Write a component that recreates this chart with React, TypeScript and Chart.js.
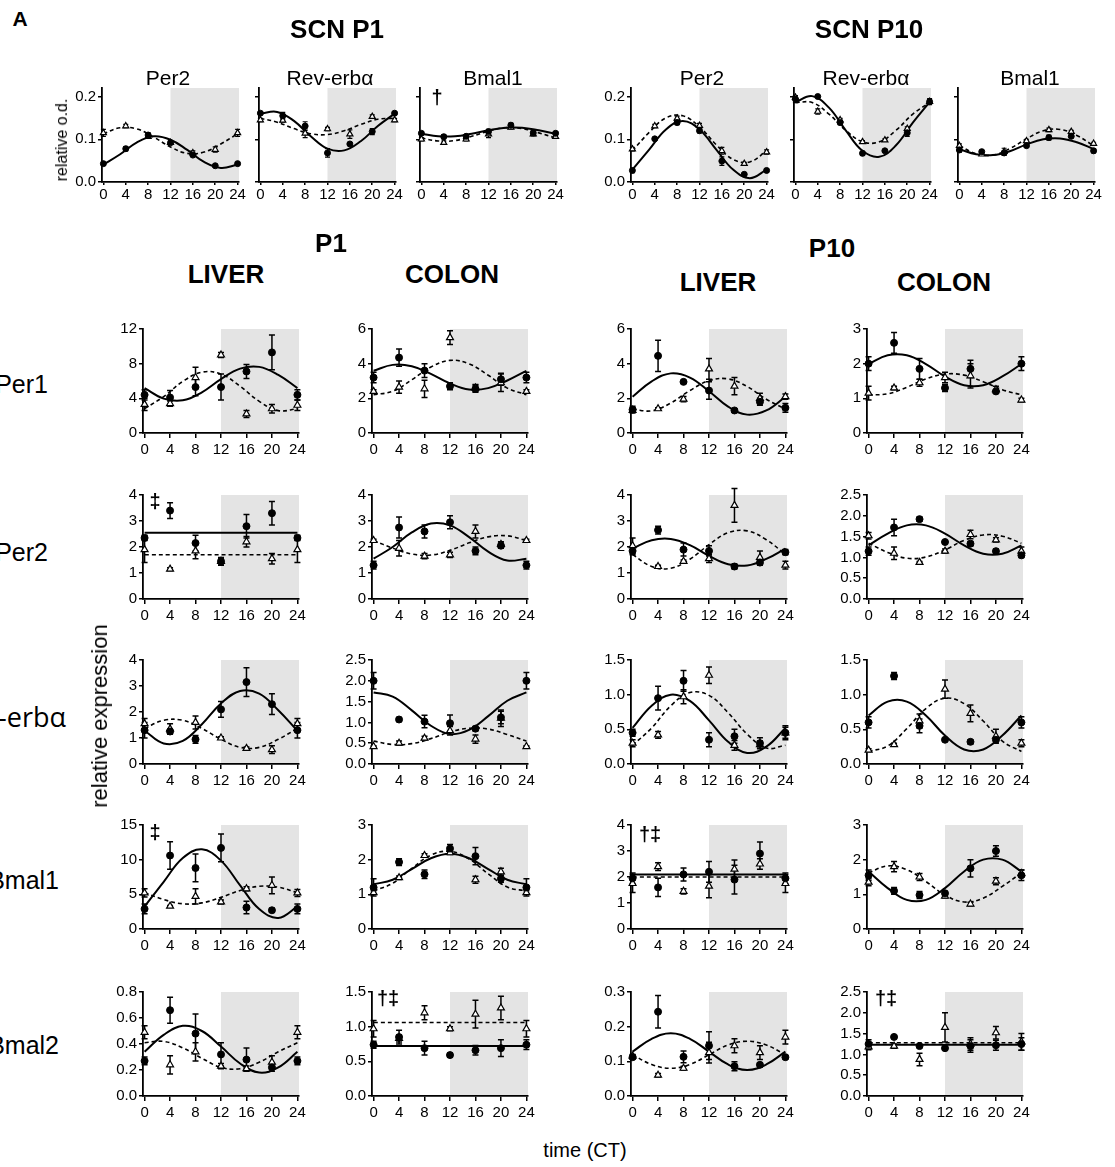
import React, { useEffect, useRef } from 'react';
import { Chart, registerables } from 'chart.js';
Chart.register(...registerables);

const FONT = '"Liberation Sans", Arial, sans-serif';
Chart.defaults.font.family = FONT;
Chart.defaults.color = '#000';

// ---------- shared axes ----------
const sampleTimes = [0, 4, 8, 12, 16, 20, 24];
const fitTimes = [0, 3, 6, 9, 12, 15, 18, 21, 24];
const flatTimes = [0, 24];
const timeTicks = [0, 4, 8, 12, 16, 20, 24];

const ticksSCN = [0, 0.1, 0.2];
const ticks0to12 = [0, 4, 8, 12];
const ticks0to6 = [0, 2, 4, 6];
const ticks0to3 = [0, 1, 2, 3];
const ticks0to4 = [0, 1, 2, 3, 4];
const ticks0to2p5 = [0, 0.5, 1, 1.5, 2, 2.5];
const ticks0to1p5 = [0, 0.5, 1, 1.5];
const ticks0to15 = [0, 5, 10, 15];
const ticks0to0p8 = [0, 0.2, 0.4, 0.6, 0.8];
const ticks0to0p3 = [0, 0.1, 0.2, 0.3];

// ---------- SCN P1 ----------
const scnP1Per2Dots = [0.043, 0.078, 0.110, 0.092, 0.063, 0.038, 0.043];
const scnP1Per2DotsErr = [0.003, 0.005, 0.005, 0.004, 0.003, 0.002, 0.003];
const scnP1Per2Tris = [0.115, 0.131, 0.106, 0.092, 0.068, 0.076, 0.115];
const scnP1Per2TrisErr = [0.008, 0.004, 0.004, 0.004, 0.005, 0.006, 0.008];
const scnP1Per2Solid = [0.041, 0.065, 0.093, 0.107, 0.099, 0.075, 0.047, 0.033, 0.041];
const scnP1Per2Dashed = [0.113, 0.127, 0.124, 0.105, 0.082, 0.067, 0.070, 0.089, 0.113];

const scnP1RevDots = [0.161, 0.155, 0.131, 0.068, 0.089, 0.118, 0.161];
const scnP1RevDotsErr = [0.003, 0.008, 0.010, 0.010, 0.003, 0.007, 0.003];
const scnP1RevTris = [0.145, 0.144, 0.114, 0.124, 0.112, 0.153, 0.145];
const scnP1RevTrisErr = [0.004, 0.004, 0.010, 0.004, 0.010, 0.004, 0.004];
const scnP1RevSolid = [0.160, 0.164, 0.143, 0.107, 0.078, 0.074, 0.096, 0.131, 0.160];
const scnP1RevDashed = [0.149, 0.140, 0.125, 0.113, 0.111, 0.120, 0.135, 0.147, 0.149];

const scnP1Bmal1Dots = [0.114, 0.106, 0.107, 0.118, 0.133, 0.115, 0.114];
const scnP1Bmal1DotsErr = [0.004, 0.005, 0.004, 0.005, 0.005, 0.006, 0.004];
const scnP1Bmal1Tris = [0.100, 0.092, 0.100, 0.112, 0.128, 0.112, 0.106];
const scnP1Bmal1TrisErr = [0.004, 0.004, 0.004, 0.008, 0.004, 0.004, 0.004];
const scnP1Bmal1Solid = [0.113, 0.107, 0.107, 0.113, 0.121, 0.127, 0.127, 0.121, 0.113];
const scnP1Bmal1Dashed = [0.103, 0.096, 0.097, 0.107, 0.119, 0.127, 0.125, 0.115, 0.103];

// ---------- SCN P10 ----------
const scnP10Per2Dots = [0.027, 0.101, 0.139, 0.120, 0.049, 0.018, 0.027];
const scnP10Per2DotsErr = [0.005, 0.003, 0.005, 0.005, 0.010, 0.002, 0.004];
const scnP10Per2Tris = [0.077, 0.131, 0.149, 0.132, 0.073, 0.043, 0.070];
const scnP10Per2TrisErr = [0.004, 0.004, 0.005, 0.005, 0.008, 0.003, 0.005];
const scnP10Per2Solid = [0.029, 0.076, 0.123, 0.143, 0.123, 0.076, 0.029, 0.009, 0.029];
const scnP10Per2Dashed = [0.073, 0.116, 0.150, 0.155, 0.129, 0.087, 0.053, 0.047, 0.073];

const scnP10RevDots = [0.194, 0.200, 0.139, 0.067, 0.073, 0.115, 0.188];
const scnP10RevDotsErr = [0.008, 0.002, 0.005, 0.005, 0.002, 0.008, 0.007];
const scnP10RevTris = [0.198, 0.165, 0.145, 0.094, 0.098, 0.125, 0.188];
const scnP10RevTrisErr = [0.004, 0.006, 0.004, 0.003, 0.003, 0.004, 0.005];
const scnP10RevSolid = [0.187, 0.201, 0.174, 0.121, 0.073, 0.059, 0.086, 0.139, 0.187];
const scnP10RevDashed = [0.186, 0.186, 0.159, 0.121, 0.094, 0.094, 0.121, 0.159, 0.186];

const scnP10Bmal1Dots = [0.075, 0.071, 0.068, 0.085, 0.104, 0.107, 0.073];
const scnP10Bmal1DotsErr = [0.005, 0.003, 0.005, 0.003, 0.006, 0.003, 0.005];
const scnP10Bmal1Tris = [0.085, 0.065, 0.071, 0.096, 0.122, 0.118, 0.090];
const scnP10Bmal1TrisErr = [0.004, 0.003, 0.008, 0.004, 0.004, 0.003, 0.003];
const scnP10Bmal1Solid = [0.077, 0.065, 0.063, 0.072, 0.088, 0.100, 0.102, 0.093, 0.077];
const scnP10Bmal1Dashed = [0.085, 0.066, 0.063, 0.078, 0.101, 0.120, 0.123, 0.109, 0.085];

// ---------- Per1 ----------
const per1LiverP1Dots = [4.4, 4.1, 5.3, 5.3, 7.1, 9.3, 4.4];
const per1LiverP1DotsErr = [0.6, 0.8, 1.0, 1.5, 0.8, 2.0, 0.6];
const per1LiverP1Tris = [3.3, 3.4, 6.4, 9.0, 2.2, 2.8, 3.2];
const per1LiverP1TrisErr = [0.7, 0.3, 1.2, 0.3, 0.4, 0.5, 0.6];
const per1LiverP1Solid = [5.18, 3.97, 3.77, 4.70, 6.22, 7.43, 7.63, 6.70, 5.18];
const per1LiverP1Dashed = [2.81, 4.20, 5.95, 7.02, 6.79, 5.40, 3.65, 2.58, 2.81];

const per1ColonP1Dots = [3.2, 4.35, 3.6, 2.7, 2.55, 3.1, 3.2];
const per1ColonP1DotsErr = [0.3, 0.5, 0.4, 0.2, 0.2, 0.35, 0.3];
const per1ColonP1Tris = [2.4, 2.65, 2.55, 5.5, 2.6, 2.9, 2.4];
const per1ColonP1TrisErr = [0.1, 0.35, 0.5, 0.4, 0.2, 0.5, 0.1];
const per1ColonP1Solid = [3.59, 3.93, 3.85, 3.41, 2.86, 2.51, 2.59, 3.03, 3.59];
const per1ColonP1Dashed = [2.21, 2.41, 3.07, 3.81, 4.19, 3.99, 3.33, 2.59, 2.21];

const per1LiverP10Dots = [1.35, 4.45, 2.95, 2.45, 1.3, 1.8, 1.45];
const per1LiverP10DotsErr = [0.2, 0.9, 0.05, 0.5, 0.1, 0.2, 0.25];
const per1LiverP10Tris = [1.3, 1.4, 1.95, 3.7, 2.7, 2.0, 2.1];
const per1LiverP10TrisErr = [0.1, 0.05, 0.15, 0.6, 0.5, 0.3, 0.15];
const per1LiverP10Solid = [2.09, 2.98, 3.44, 3.20, 2.41, 1.52, 1.06, 1.30, 2.09];
const per1LiverP10Dashed = [1.38, 1.28, 1.73, 2.45, 3.02, 3.12, 2.68, 1.95, 1.38];

const per1ColonP10Dots = [2.0, 2.6, 1.85, 1.3, 1.85, 1.2, 2.0];
const per1ColonP10DotsErr = [0.2, 0.3, 0.3, 0.1, 0.25, 0.05, 0.2];
const per1ColonP10Tris = [1.15, 1.3, 1.45, 1.6, 1.65, 1.25, 0.95];
const per1ColonP10TrisErr = [0.2, 0.05, 0.1, 0.15, 0.35, 0.1, 0.05];
const per1ColonP10Solid = [1.99, 2.24, 2.24, 1.99, 1.63, 1.38, 1.38, 1.63, 1.99];
const per1ColonP10Dashed = [1.10, 1.13, 1.32, 1.56, 1.70, 1.67, 1.48, 1.25, 1.10];

// ---------- Per2 ----------
const per2LiverP1Dots = [2.35, 3.4, 2.15, 1.45, 2.8, 3.3, 2.35];
const per2LiverP1DotsErr = [0.1, 0.3, 0.3, 0.15, 0.45, 0.45, 0.1];
const per2LiverP1Tris = [1.9, 1.15, 1.85, 1.45, 2.2, 1.55, 1.9];
const per2LiverP1TrisErr = [0.5, 0.05, 0.3, 0.1, 0.2, 0.2, 0.5];
const per2LiverP1Solid = [2.55, 2.55];
const per2LiverP1Dashed = [1.7, 1.7];

const per2ColonP1Dots = [1.3, 2.75, 2.6, 2.95, 1.85, 2.05, 1.3];
const per2ColonP1DotsErr = [0.15, 0.4, 0.25, 0.25, 0.15, 0.1, 0.15];
const per2ColonP1Tris = [2.25, 1.95, 1.65, 1.7, 2.6, 2.1, 2.25];
const per2ColonP1TrisErr = [0.05, 0.3, 0.1, 0.1, 0.25, 0.1, 0.05];
const per2ColonP1Solid = [1.55, 2.00, 2.56, 2.90, 2.83, 2.38, 1.82, 1.48, 1.55];
const per2ColonP1Dashed = [2.25, 1.96, 1.73, 1.69, 1.87, 2.16, 2.39, 2.43, 2.25];

const per2LiverP10Dots = [1.85, 2.65, 1.9, 1.85, 1.25, 1.4, 1.8];
const per2LiverP10DotsErr = [0.15, 0.15, 0.25, 0.2, 0.1, 0.1, 0.1];
const per2LiverP10Tris = [2.05, 1.25, 1.45, 1.55, 3.6, 1.6, 1.3];
const per2LiverP10TrisErr = [0.3, 0.05, 0.05, 0.15, 0.65, 0.25, 0.15];
const per2LiverP10Solid = [1.94, 2.26, 2.31, 2.07, 1.66, 1.34, 1.29, 1.54, 1.94];
const per2LiverP10Dashed = [1.71, 1.25, 1.18, 1.53, 2.09, 2.55, 2.62, 2.28, 1.71];

const per2ColonP10Dots = [1.15, 1.72, 1.92, 1.37, 1.33, 1.15, 1.05];
const per2ColonP10DotsErr = [0.1, 0.2, 0.05, 0.02, 0.05, 0.05, 0.05];
const per2ColonP10Tris = [1.52, 1.1, 0.88, 1.15, 1.55, 1.42, 1.15];
const per2ColonP10TrisErr = [0.08, 0.15, 0.02, 0.05, 0.1, 0.05, 0.1];
const per2ColonP10Solid = [1.29, 1.57, 1.77, 1.77, 1.57, 1.29, 1.09, 1.09, 1.29];
const per2ColonP10Dashed = [1.34, 1.12, 0.98, 1.01, 1.18, 1.41, 1.54, 1.51, 1.34];

// ---------- Rev-erbα ----------
const revLiverP1Dots = [1.3, 1.25, 0.95, 2.1, 3.15, 2.3, 1.3];
const revLiverP1DotsErr = [0.3, 0.1, 0.15, 0.3, 0.55, 0.4, 0.3];
const revLiverP1Tris = [1.55, 1.35, 1.6, 1.0, 0.6, 0.55, 1.55];
const revLiverP1TrisErr = [0.2, 0.2, 0.25, 0.05, 0.05, 0.15, 0.2];
const revLiverP1Solid = [1.28, 0.79, 0.89, 1.53, 2.33, 2.81, 2.71, 2.07, 1.28];
const revLiverP1Dashed = [1.37, 1.68, 1.68, 1.37, 0.95, 0.64, 0.64, 0.95, 1.37];

const revColonP1Dots = [2.0, 1.07, 1.02, 0.98, 0.85, 1.12, 2.0];
const revColonP1DotsErr = [0.2, 0.05, 0.15, 0.2, 0.05, 0.15, 0.2];
const revColonP1Tris = [0.42, 0.5, 0.62, 0.8, 0.6, 1.1, 0.42];
const revColonP1TrisErr = [0.02, 0.05, 0.05, 0.1, 0.1, 0.2, 0.02];
const revColonP1Solid = [1.72, 1.62, 1.29, 0.92, 0.72, 0.82, 1.15, 1.52, 1.72];
const revColonP1Dashed = [0.55, 0.47, 0.49, 0.61, 0.77, 0.86, 0.84, 0.71, 0.55];

const revLiverP10Dots = [0.45, 0.95, 1.2, 0.35, 0.4, 0.3, 0.45];
const revLiverP10DotsErr = [0.05, 0.17, 0.15, 0.1, 0.1, 0.08, 0.08];
const revLiverP10Tris = [0.3, 0.42, 0.97, 1.28, 0.27, 0.28, 0.45];
const revLiverP10TrisErr = [0.05, 0.05, 0.1, 0.12, 0.07, 0.05, 0.1];
const revLiverP10Solid = [0.52, 0.84, 1.00, 0.91, 0.63, 0.32, 0.16, 0.25, 0.52];
const revLiverP10Dashed = [0.27, 0.52, 0.84, 1.03, 0.99, 0.74, 0.43, 0.23, 0.27];

const revColonP10Dots = [0.6, 1.27, 0.55, 0.35, 0.32, 0.35, 0.6];
const revColonP10DotsErr = [0.08, 0.05, 0.1, 0.02, 0.03, 0.03, 0.08];
const revColonP10Tris = [0.2, 0.28, 0.62, 1.08, 0.73, 0.4, 0.3];
const revColonP10TrisErr = [0.02, 0.02, 0.1, 0.13, 0.12, 0.1, 0.05];
const revColonP10Solid = [0.70, 0.90, 0.90, 0.70, 0.41, 0.21, 0.21, 0.41, 0.70];
const revColonP10Dashed = [0.18, 0.26, 0.51, 0.80, 0.95, 0.87, 0.62, 0.33, 0.18];

// ---------- Bmal1 ----------
const bmal1LiverP1Dots = [2.9, 10.6, 8.8, 11.7, 3.1, 2.7, 2.9];
const bmal1LiverP1DotsErr = [0.7, 2.0, 2.0, 2.0, 0.9, 0.3, 0.7];
const bmal1LiverP1Tris = [5.2, 3.3, 4.7, 3.9, 5.8, 6.3, 5.2];
const bmal1LiverP1TrisErr = [0.6, 0.1, 1.1, 0.3, 0.3, 1.2, 0.5];
const bmal1LiverP1Solid = [3.24, 6.81, 10.23, 11.50, 9.86, 6.29, 2.87, 1.60, 3.24];
const bmal1LiverP1Dashed = [5.24, 4.25, 3.64, 3.77, 4.56, 5.55, 6.16, 6.03, 5.24];

const bmal1ColonP1Dots = [1.2, 1.93, 1.58, 2.32, 2.1, 1.45, 1.2];
const bmal1ColonP1DotsErr = [0.25, 0.1, 0.12, 0.12, 0.25, 0.1, 0.25];
const bmal1ColonP1Tris = [1.05, 1.48, 2.12, 2.2, 1.42, 1.65, 1.05];
const bmal1ColonP1TrisErr = [0.05, 0.05, 0.05, 0.05, 0.1, 0.1, 0.05];
const bmal1ColonP1Solid = [1.29, 1.42, 1.73, 2.04, 2.17, 2.04, 1.73, 1.42, 1.29];
const bmal1ColonP1Dashed = [1.10, 1.32, 1.75, 2.13, 2.24, 2.02, 1.59, 1.21, 1.10];

const bmal1LiverP10Dots = [1.95, 1.6, 2.1, 2.2, 1.9, 2.9, 1.95];
const bmal1LiverP10DotsErr = [0.2, 0.35, 0.25, 0.4, 0.55, 0.45, 0.2];
const bmal1LiverP10Tris = [1.75, 2.4, 1.45, 1.65, 2.3, 2.5, 1.75];
const bmal1LiverP10TrisErr = [0.35, 0.15, 0.1, 0.45, 0.35, 0.2, 0.35];
const bmal1LiverP10Solid = [2.1, 2.1];
const bmal1LiverP10Dashed = [2.0, 2.0];

const bmal1ColonP10Dots = [1.55, 1.1, 0.98, 1.03, 1.75, 2.25, 1.55];
const bmal1ColonP10DotsErr = [0.15, 0.1, 0.1, 0.05, 0.25, 0.15, 0.15];
const bmal1ColonP10Tris = [1.35, 1.8, 1.5, 0.95, 0.72, 1.38, 1.6];
const bmal1ColonP10TrisErr = [0.1, 0.15, 0.1, 0.05, 0.05, 0.1, 0.1];
const bmal1ColonP10Solid = [1.66, 1.18, 0.84, 0.84, 1.18, 1.66, 2.00, 2.00, 1.66];
const bmal1ColonP10Dashed = [1.62, 1.82, 1.71, 1.37, 0.98, 0.78, 0.89, 1.23, 1.62];

// ---------- Bmal2 ----------
const bmal2LiverP1Dots = [0.27, 0.66, 0.48, 0.32, 0.28, 0.22, 0.27];
const bmal2LiverP1DotsErr = [0.03, 0.1, 0.15, 0.09, 0.09, 0.03, 0.03];
const bmal2LiverP1Tris = [0.49, 0.24, 0.34, 0.23, 0.21, 0.26, 0.49];
const bmal2LiverP1TrisErr = [0.05, 0.07, 0.07, 0.02, 0.02, 0.05, 0.05];
const bmal2LiverP1Solid = [0.34, 0.47, 0.54, 0.50, 0.38, 0.25, 0.18, 0.22, 0.34];
const bmal2LiverP1Dashed = [0.41, 0.42, 0.37, 0.29, 0.22, 0.21, 0.26, 0.34, 0.41];

const bmal2ColonP1Dots = [0.74, 0.85, 0.69, 0.59, 0.66, 0.69, 0.74];
const bmal2ColonP1DotsErr = [0.05, 0.1, 0.1, 0.03, 0.07, 0.12, 0.07];
const bmal2ColonP1Tris = [0.97, 0.83, 1.2, 0.97, 1.18, 1.27, 0.97];
const bmal2ColonP1TrisErr = [0.12, 0.05, 0.1, 0.03, 0.2, 0.17, 0.12];
const bmal2ColonP1Solid = [0.72, 0.72];
const bmal2ColonP1Dashed = [1.06, 1.06];

const bmal2LiverP10Dots = [0.112, 0.243, 0.113, 0.145, 0.086, 0.09, 0.112];
const bmal2LiverP10DotsErr = [0.006, 0.047, 0.017, 0.04, 0.013, 0.006, 0.005];
const bmal2LiverP10Tris = [0.115, 0.06, 0.08, 0.125, 0.145, 0.125, 0.17];
const bmal2LiverP10TrisErr = [0.005, 0.005, 0.006, 0.03, 0.02, 0.02, 0.02];
const bmal2LiverP10Solid = [0.128, 0.165, 0.181, 0.165, 0.128, 0.091, 0.075, 0.091, 0.128];
const bmal2LiverP10Dashed = [0.119, 0.091, 0.080, 0.091, 0.119, 0.147, 0.158, 0.147, 0.119];

const bmal2ColonP10Dots = [1.25, 1.42, 1.2, 1.15, 1.2, 1.22, 1.25];
const bmal2ColonP10DotsErr = [0.1, 0.03, 0.03, 0.03, 0.15, 0.12, 0.15];
const bmal2ColonP10Tris = [1.18, 1.2, 0.88, 1.65, 1.25, 1.52, 1.3];
const bmal2ColonP10TrisErr = [0.07, 0.05, 0.15, 0.35, 0.15, 0.15, 0.2];
const bmal2ColonP10Solid = [1.23, 1.23];
const bmal2ColonP10Dashed = [1.28, 1.28];

// ---------- layout (positions only) ----------
type Panel = {
  ax: number; top: number; bottom: number; width: number; scn: boolean; showY: boolean;
  yTicks: number[]; yMax: number;
  dots: number[]; dotsErr: number[]; tris: number[]; trisErr: number[];
  solid: number[]; dashed: number[];
};

const scnAxisX = [102, 259, 420, 631, 794, 958];
const lowAxisX = [143, 372, 631, 867];
const lowRowTop = [329, 495, 660, 825, 992];
const LOW_H = 104;

const scnSets = [
  [scnP1Per2Dots, scnP1Per2DotsErr, scnP1Per2Tris, scnP1Per2TrisErr, scnP1Per2Solid, scnP1Per2Dashed],
  [scnP1RevDots, scnP1RevDotsErr, scnP1RevTris, scnP1RevTrisErr, scnP1RevSolid, scnP1RevDashed],
  [scnP1Bmal1Dots, scnP1Bmal1DotsErr, scnP1Bmal1Tris, scnP1Bmal1TrisErr, scnP1Bmal1Solid, scnP1Bmal1Dashed],
  [scnP10Per2Dots, scnP10Per2DotsErr, scnP10Per2Tris, scnP10Per2TrisErr, scnP10Per2Solid, scnP10Per2Dashed],
  [scnP10RevDots, scnP10RevDotsErr, scnP10RevTris, scnP10RevTrisErr, scnP10RevSolid, scnP10RevDashed],
  [scnP10Bmal1Dots, scnP10Bmal1DotsErr, scnP10Bmal1Tris, scnP10Bmal1TrisErr, scnP10Bmal1Solid, scnP10Bmal1Dashed],
];

const lowSets = [
  [
    [per1LiverP1Dots, per1LiverP1DotsErr, per1LiverP1Tris, per1LiverP1TrisErr, per1LiverP1Solid, per1LiverP1Dashed, ticks0to12],
    [per1ColonP1Dots, per1ColonP1DotsErr, per1ColonP1Tris, per1ColonP1TrisErr, per1ColonP1Solid, per1ColonP1Dashed, ticks0to6],
    [per1LiverP10Dots, per1LiverP10DotsErr, per1LiverP10Tris, per1LiverP10TrisErr, per1LiverP10Solid, per1LiverP10Dashed, ticks0to6],
    [per1ColonP10Dots, per1ColonP10DotsErr, per1ColonP10Tris, per1ColonP10TrisErr, per1ColonP10Solid, per1ColonP10Dashed, ticks0to3],
  ],
  [
    [per2LiverP1Dots, per2LiverP1DotsErr, per2LiverP1Tris, per2LiverP1TrisErr, per2LiverP1Solid, per2LiverP1Dashed, ticks0to4],
    [per2ColonP1Dots, per2ColonP1DotsErr, per2ColonP1Tris, per2ColonP1TrisErr, per2ColonP1Solid, per2ColonP1Dashed, ticks0to4],
    [per2LiverP10Dots, per2LiverP10DotsErr, per2LiverP10Tris, per2LiverP10TrisErr, per2LiverP10Solid, per2LiverP10Dashed, ticks0to4],
    [per2ColonP10Dots, per2ColonP10DotsErr, per2ColonP10Tris, per2ColonP10TrisErr, per2ColonP10Solid, per2ColonP10Dashed, ticks0to2p5],
  ],
  [
    [revLiverP1Dots, revLiverP1DotsErr, revLiverP1Tris, revLiverP1TrisErr, revLiverP1Solid, revLiverP1Dashed, ticks0to4],
    [revColonP1Dots, revColonP1DotsErr, revColonP1Tris, revColonP1TrisErr, revColonP1Solid, revColonP1Dashed, ticks0to2p5],
    [revLiverP10Dots, revLiverP10DotsErr, revLiverP10Tris, revLiverP10TrisErr, revLiverP10Solid, revLiverP10Dashed, ticks0to1p5],
    [revColonP10Dots, revColonP10DotsErr, revColonP10Tris, revColonP10TrisErr, revColonP10Solid, revColonP10Dashed, ticks0to1p5],
  ],
  [
    [bmal1LiverP1Dots, bmal1LiverP1DotsErr, bmal1LiverP1Tris, bmal1LiverP1TrisErr, bmal1LiverP1Solid, bmal1LiverP1Dashed, ticks0to15],
    [bmal1ColonP1Dots, bmal1ColonP1DotsErr, bmal1ColonP1Tris, bmal1ColonP1TrisErr, bmal1ColonP1Solid, bmal1ColonP1Dashed, ticks0to3],
    [bmal1LiverP10Dots, bmal1LiverP10DotsErr, bmal1LiverP10Tris, bmal1LiverP10TrisErr, bmal1LiverP10Solid, bmal1LiverP10Dashed, ticks0to4],
    [bmal1ColonP10Dots, bmal1ColonP10DotsErr, bmal1ColonP10Tris, bmal1ColonP10TrisErr, bmal1ColonP10Solid, bmal1ColonP10Dashed, ticks0to3],
  ],
  [
    [bmal2LiverP1Dots, bmal2LiverP1DotsErr, bmal2LiverP1Tris, bmal2LiverP1TrisErr, bmal2LiverP1Solid, bmal2LiverP1Dashed, ticks0to0p8],
    [bmal2ColonP1Dots, bmal2ColonP1DotsErr, bmal2ColonP1Tris, bmal2ColonP1TrisErr, bmal2ColonP1Solid, bmal2ColonP1Dashed, ticks0to1p5],
    [bmal2LiverP10Dots, bmal2LiverP10DotsErr, bmal2LiverP10Tris, bmal2LiverP10TrisErr, bmal2LiverP10Solid, bmal2LiverP10Dashed, ticks0to0p3],
    [bmal2ColonP10Dots, bmal2ColonP10DotsErr, bmal2ColonP10Tris, bmal2ColonP10TrisErr, bmal2ColonP10Solid, bmal2ColonP10Dashed, ticks0to2p5],
  ],
];

const panels: Panel[] = [];
scnSets.forEach((s, i) => {
  panels.push({
    ax: scnAxisX[i], top: 88, bottom: 182, width: 137, scn: true, showY: i === 0 || i === 3,
    yTicks: ticksSCN, yMax: 0.22,
    dots: s[0], dotsErr: s[1], tris: s[2], trisErr: s[3], solid: s[4], dashed: s[5],
  });
});
lowSets.forEach((row, r) => {
  row.forEach((s, c) => {
    const yt = s[6];
    panels.push({
      ax: lowAxisX[c], top: lowRowTop[r], bottom: lowRowTop[r] + LOW_H, width: 156, scn: false, showY: true,
      yTicks: yt, yMax: yt[yt.length - 1],
      dots: s[0], dotsErr: s[1], tris: s[2], trisErr: s[3], solid: s[4], dashed: s[5],
    });
  });
});

const Y_W = 44;
const PAD_TOP = 12;
const PAD_RIGHT = 16;

function PanelChart({ p }: { p: Panel }) {
  const ref = useRef<HTMLCanvasElement>(null);
  const xH = p.scn ? 22 : 26;
  const w = Y_W + p.width + PAD_RIGHT;
  const h = PAD_TOP + (p.bottom - p.top) + xH;

  useEffect(() => {
    const decimals = p.yTicks.some((v) => Math.abs(v - Math.round(v)) > 1e-9) ? 1 : 0;
    const cap = p.scn ? 2.5 : 3;

    const shade = {
      id: 'shade',
      beforeDraw(chart: any) {
        const { ctx, chartArea, scales } = chart;
        const x0 = scales.x.getPixelForValue(12);
        ctx.save();
        ctx.fillStyle = '#e4e4e4';
        ctx.fillRect(x0, chartArea.top, chartArea.right - x0, chartArea.bottom - chartArea.top);
        ctx.restore();
      },
    };
    const errBars = {
      id: 'errBars',
      beforeDatasetsDraw(chart: any) {
        const { ctx, scales } = chart;
        ctx.save();
        ctx.strokeStyle = '#000';
        ctx.lineWidth = p.scn ? 1.2 : 1.5;
        const series = [
          [p.dots, p.dotsErr],
          [p.tris, p.trisErr],
        ];
        series.forEach(([m, e]) => {
          m.forEach((v, i) => {
            const err = e[i];
            if (!err) return;
            const px = scales.x.getPixelForValue(sampleTimes[i]);
            const y1 = scales.y.getPixelForValue(v + err);
            const y2 = scales.y.getPixelForValue(v - err);
            ctx.beginPath();
            ctx.moveTo(px, y1);
            ctx.lineTo(px, y2);
            ctx.moveTo(px - cap, y1);
            ctx.lineTo(px + cap, y1);
            ctx.moveTo(px - cap, y2);
            ctx.lineTo(px + cap, y2);
            ctx.stroke();
          });
        });
        ctx.restore();
      },
    };

    const fitX = (arr: number[]) => (arr.length === 2 ? flatTimes : fitTimes);
    const chart = new Chart(ref.current as HTMLCanvasElement, {
      type: 'scatter',
      data: {
        datasets: [
          {
            data: sampleTimes.map((t, i) => ({ x: t, y: p.dots[i] })),
            pointStyle: 'circle',
            pointRadius: p.scn ? 3 : 3.5,
            pointBackgroundColor: '#000',
            pointBorderColor: '#000',
            pointBorderWidth: 1,
            showLine: false,
            clip: false,
          } as any,
          {
            data: sampleTimes.map((t, i) => ({ x: t, y: p.tris[i] })),
            pointStyle: 'triangle',
            pointRadius: p.scn ? 3.5 : 4,
            pointBackgroundColor: '#fff',
            pointBorderColor: '#000',
            pointBorderWidth: 1.2,
            showLine: false,
            clip: false,
          } as any,
          {
            data: fitX(p.solid).map((t, i) => ({ x: t, y: p.solid[i] })),
            showLine: true,
            pointRadius: 0,
            borderColor: '#000',
            borderWidth: 2,
            tension: 0.4,
            fill: false,
          } as any,
          {
            data: fitX(p.dashed).map((t, i) => ({ x: t, y: p.dashed[i] })),
            showLine: true,
            pointRadius: 0,
            borderColor: '#000',
            borderWidth: 1.6,
            borderDash: [4, 3],
            tension: 0.4,
            fill: false,
          } as any,
        ],
      },
      options: {
        animation: false,
        responsive: false,
        devicePixelRatio: 1,
        events: [],
        layout: { padding: { top: PAD_TOP, right: PAD_RIGHT, left: 0, bottom: 0 } },
        plugins: { legend: { display: false }, tooltip: { enabled: false } },
        scales: {
          x: {
            type: 'linear',
            min: -0.25,
            max: 24.25,
            afterBuildTicks: (s: any) => {
              s.ticks = timeTicks.map((v) => ({ value: v }));
            },
            afterFit: (s: any) => {
              s.height = xH;
            },
            ticks: {
              autoSkip: false,
              maxRotation: 0,
              padding: p.scn ? 1 : 3,
              font: { size: 15, family: FONT },
              color: '#000',
              callback: (v: any) => String(v),
            },
            grid: { display: true, drawOnChartArea: false, drawTicks: true, tickLength: p.scn ? 3 : 5, color: '#000', lineWidth: 1.5 },
            border: { display: true, color: '#000', width: 1.8 },
          },
          y: {
            type: 'linear',
            min: 0,
            max: p.yMax,
            afterBuildTicks: (s: any) => {
              s.ticks = p.yTicks.map((v) => ({ value: v }));
            },
            afterFit: (s: any) => {
              s.width = Y_W;
            },
            ticks: {
              autoSkip: false,
              padding: 2,
              font: { size: 15, family: FONT },
              color: '#000',
              callback: (v: any) => (p.showY ? Number(v).toFixed(decimals) : ''),
            },
            grid: { display: true, drawOnChartArea: false, drawTicks: true, tickLength: 4, color: '#000', lineWidth: 1.5 },
            border: { display: true, color: '#000', width: 1.8 },
          },
        },
      } as any,
      plugins: [shade, errBars],
    });
    return () => chart.destroy();
  }, []);

  return (
    <div style={{ position: 'absolute', left: p.ax - Y_W, top: p.top - PAD_TOP, width: w, height: h }}>
      <canvas ref={ref} width={w} height={h} style={{ width: w, height: h, display: 'block' }} />
    </div>
  );
}

type TxtProps = {
  x: number; y: number; text: string; size: number; bold?: boolean; align?: 'center' | 'right'; rotate?: boolean; family?: string;
};
function Txt({ x, y, text, size, bold, align = 'center', rotate, family }: TxtProps) {
  const tx = align === 'right' ? '-100%' : '-50%';
  return (
    <div
      style={{
        position: 'absolute',
        left: x,
        top: y,
        transform: `translate(${tx}, -50%)${rotate ? ' rotate(-90deg)' : ''}`,
        transformOrigin: align === 'right' ? '100% 50%' : '50% 50%',
        fontSize: size,
        fontWeight: bold ? 700 : 400,
        fontFamily: family || FONT,
        whiteSpace: 'nowrap',
        lineHeight: 1,
        color: '#000',
      }}
    >
      {text}
    </div>
  );
}

export default function App() {
  return (
    <div
      style={{
        position: 'absolute',
        left: 0,
        top: 0,
        width: 1115,
        height: 1167,
        overflow: 'hidden',
        background: '#fff',
      }}
    >
      {panels.map((p, i) => (
        <PanelChart key={i} p={p} />
      ))}

      <Txt x={20} y={18} text="A" size={21} bold />
      <Txt x={337} y={29} text="SCN P1" size={26} bold />
      <Txt x={869} y={29} text="SCN P10" size={26} bold />

      <Txt x={168} y={77} text="Per2" size={21} />
      <Txt x={330} y={77} text="Rev-erbα" size={21} />
      <Txt x={493} y={77} text="Bmal1" size={21} />
      <Txt x={702} y={77} text="Per2" size={21} />
      <Txt x={866} y={77} text="Rev-erbα" size={21} />
      <Txt x={1030} y={77} text="Bmal1" size={21} />
      <Txt x={437} y={97} text="†" size={20} bold />
      <Txt x={62} y={140} text="relative o.d." size={16} rotate />

      <Txt x={331} y={243} text="P1" size={26} bold />
      <Txt x={226} y={274} text="LIVER" size={26} bold />
      <Txt x={452} y={274} text="COLON" size={26} bold />
      <Txt x={832} y={248} text="P10" size={26} bold />
      <Txt x={718} y={282} text="LIVER" size={26} bold />
      <Txt x={944} y={282} text="COLON" size={26} bold />

      <Txt x={48} y={384} text="Per1" size={25} align="right" />
      <Txt x={48} y={552} text="Per2" size={25} align="right" />
      <Txt x={66} y={716} text="Rev-erbα" size={27} align="right" family='"Open Sans", sans-serif' />
      <Txt x={59} y={880} text="Bmal1" size={25} align="right" />
      <Txt x={59} y={1045} text="Bmal2" size={25} align="right" />

      <Txt x={100} y={716} text="relative expression" size={22} rotate />
      <Txt x={585} y={1150} text="time (CT)" size={20} />

      <Txt x={155} y={501} text="‡" size={20} bold />
      <Txt x={155} y={832} text="‡" size={20} bold />
      <Txt x={650} y={834} text="†‡" size={20} bold />
      <Txt x={388} y={998} text="†‡" size={20} bold />
      <Txt x={886} y={998} text="†‡" size={20} bold />
    </div>
  );
}
